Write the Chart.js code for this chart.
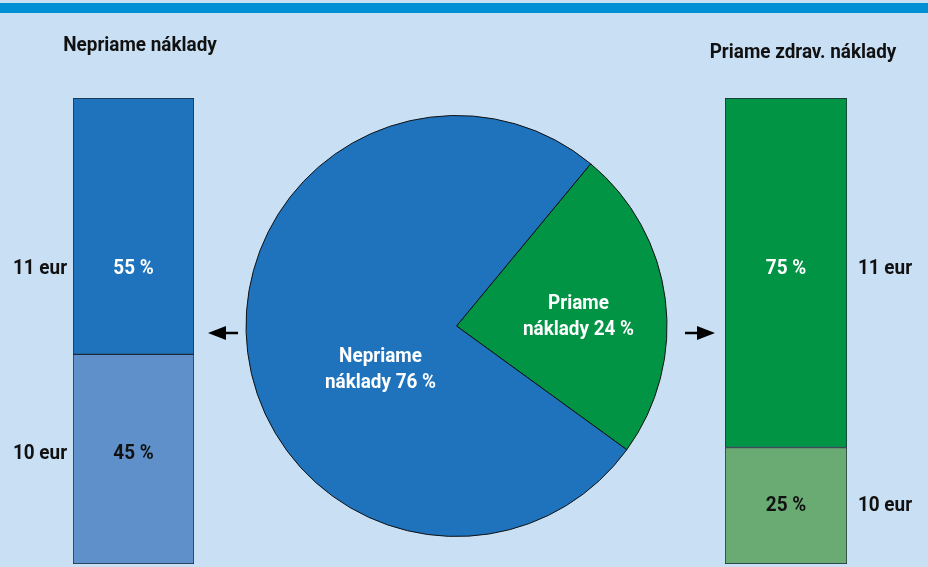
<!DOCTYPE html>
<html>
<head>
<meta charset="utf-8">
<script src="https://cdn.jsdelivr.net/npm/chart.js@4.4.1/dist/chart.umd.min.js"></script>
<style>
  html, body { margin: 0; padding: 0; }
  body { width: 928px; height: 567px; background: #c8dff4; position: relative; overflow: hidden; }
  .stripe { position: absolute; left: 0; top: 3px; width: 928px; height: 10px; background: #008fd5; }
  canvas { position: absolute; left: 0; top: 0; }
</style>
</head>
<body>
<div class="stripe"></div>
<canvas id="left-chart"></canvas>
<canvas id="pie-chart"></canvas>
<canvas id="right-chart"></canvas>
<script>
// Data
const pieLabels = [["Priame", "náklady 24 %"], ["Nepriame", "náklady 76 %"]];
const pieValues = [24, 76];

const leftTitle = "Nepriame náklady";
const leftValues = [45, 55]; // bottom, top
const leftPriceLabels = ["10 eur", "11 eur"];

const rightTitle = "Priame zdrav. náklady";
const rightValues = [25, 75]; // bottom, top
const rightPriceLabels = ["10 eur", "11 eur"];

const FONT = "bold 21px Roboto, 'Liberation Sans', sans-serif";

Chart.defaults.animation = false;
Chart.defaults.responsive = false;
Chart.defaults.plugins.legend.display = false;
Chart.defaults.plugins.tooltip.enabled = false;

// condensed-looking text: squeeze horizontally
function drawText(ctx, text, x, y) {
  ctx.save();
  ctx.translate(x, y);
  ctx.scale(0.9, 1);
  ctx.fillText(text, 0, 0);
  ctx.restore();
}

// Text inside/next to the stacked bars
const barTextPlugin = {
  id: "barText",
  afterDatasetsDraw(chart, args, opts) {
    const ctx = chart.ctx;
    ctx.save();
    ctx.font = FONT;
    ctx.textAlign = "center";
    ctx.textBaseline = "middle";
    chart.data.datasets.forEach((ds, i) => {
      const bar = chart.getDatasetMeta(i).data[0];
      const midY = (bar.y + bar.base) / 2 + opts.shiftY[i];
      ctx.fillStyle = opts.pctColor[i];
      drawText(ctx, ds.data[0] + " %", bar.x, midY);
      ctx.fillStyle = "#111";
      drawText(ctx, opts.prices[i], opts.priceX, midY);
    });
    ctx.fillStyle = "#111";
    drawText(ctx, opts.title, opts.titleX, opts.titleY);
    // arrow pointing towards the bar
    ctx.fillStyle = "#000";
    ctx.strokeStyle = "#000";
    ctx.lineWidth = 2.5;
    const ax = opts.arrowX, ay = opts.arrowY, d = opts.arrowDir;
    ctx.beginPath();
    ctx.moveTo(ax - d * 10, ay);
    ctx.lineTo(ax - d * 30, ay);
    ctx.stroke();
    ctx.beginPath();
    ctx.moveTo(ax, ay);
    ctx.lineTo(ax - d * 18, ay - 7);
    ctx.lineTo(ax - d * 18, ay + 7);
    ctx.closePath();
    ctx.fill();
    ctx.restore();
  }
};

function barChart(id, values, colors, padding, textOpts) {
  return new Chart(document.getElementById(id), {
    type: "bar",
    data: {
      labels: [""],
      datasets: values.map((v, i) => ({
        data: [v],
        backgroundColor: colors[i],
        borderColor: "#1b2a3a",
        borderWidth: 1,
        borderSkipped: false,
        barPercentage: 1,
        categoryPercentage: 1
      }))
    },
    options: {
      layout: { padding },
      scales: {
        x: { display: false, stacked: true },
        y: { display: false, stacked: true, min: 0, max: 100 }
      },
      plugins: { barText: textOpts }
    },
    plugins: [barTextPlugin]
  });
}

["left-chart", "pie-chart", "right-chart"].forEach((id) => {
  const c = document.getElementById(id);
  c.width = 928;
  c.height = 567;
});

barChart("left-chart", leftValues, ["#6090c9", "#1f73bc"],
  { left: 73, right: 928 - 194, top: 98, bottom: 567 - 564 },
  { prices: leftPriceLabels, priceX: 40, pctColor: ["#111", "#fff"], shiftY: [-5, 43],
    title: leftTitle, titleX: 140, titleY: 46, arrowX: 208, arrowY: 333, arrowDir: -1 });

barChart("right-chart", rightValues, ["#6aab73", "#009444"],
  { left: 725, right: 928 - 847, top: 98, bottom: 567 - 564 },
  { prices: rightPriceLabels, priceX: 885, pctColor: ["#111", "#fff"], shiftY: [0, -4],
    title: rightTitle, titleX: 803, titleY: 53, arrowX: 715, arrowY: 333, arrowDir: 1 });

// Labels on pie slices
const pieTextPlugin = {
  id: "pieText",
  afterDatasetsDraw(chart, args, opts) {
    const ctx = chart.ctx;
    const meta = chart.getDatasetMeta(0);
    ctx.save();
    ctx.font = FONT;
    ctx.textAlign = "center";
    ctx.textBaseline = "middle";
    ctx.fillStyle = "#fff";
    meta.data.forEach((arc, i) => {
      const off = opts.offsets[i];
      const x = arc.x + off[0], y = arc.y + off[1];
      pieLabels[i].forEach((line, k) => drawText(ctx, line, x, y + (k - 0.5) * 26));
    });
    ctx.restore();
  }
};

new Chart(document.getElementById("pie-chart"), {
  type: "pie",
  data: {
    labels: pieLabels.map(l => l.join(" ")),
    datasets: [{
      data: pieValues,
      backgroundColor: ["#009444", "#1f73bc"],
      borderColor: "#111",
      borderWidth: 1
    }]
  },
  options: {
    rotation: 39.6,
    layout: { padding: { left: 456 - 211, right: 928 - 668, top: 326 - 211, bottom: 567 - 537 } },
    plugins: { pieText: { offsets: [[122, -9], [-76, 44]] } }
  },
  plugins: [pieTextPlugin]
});
</script>
</body>
</html>
